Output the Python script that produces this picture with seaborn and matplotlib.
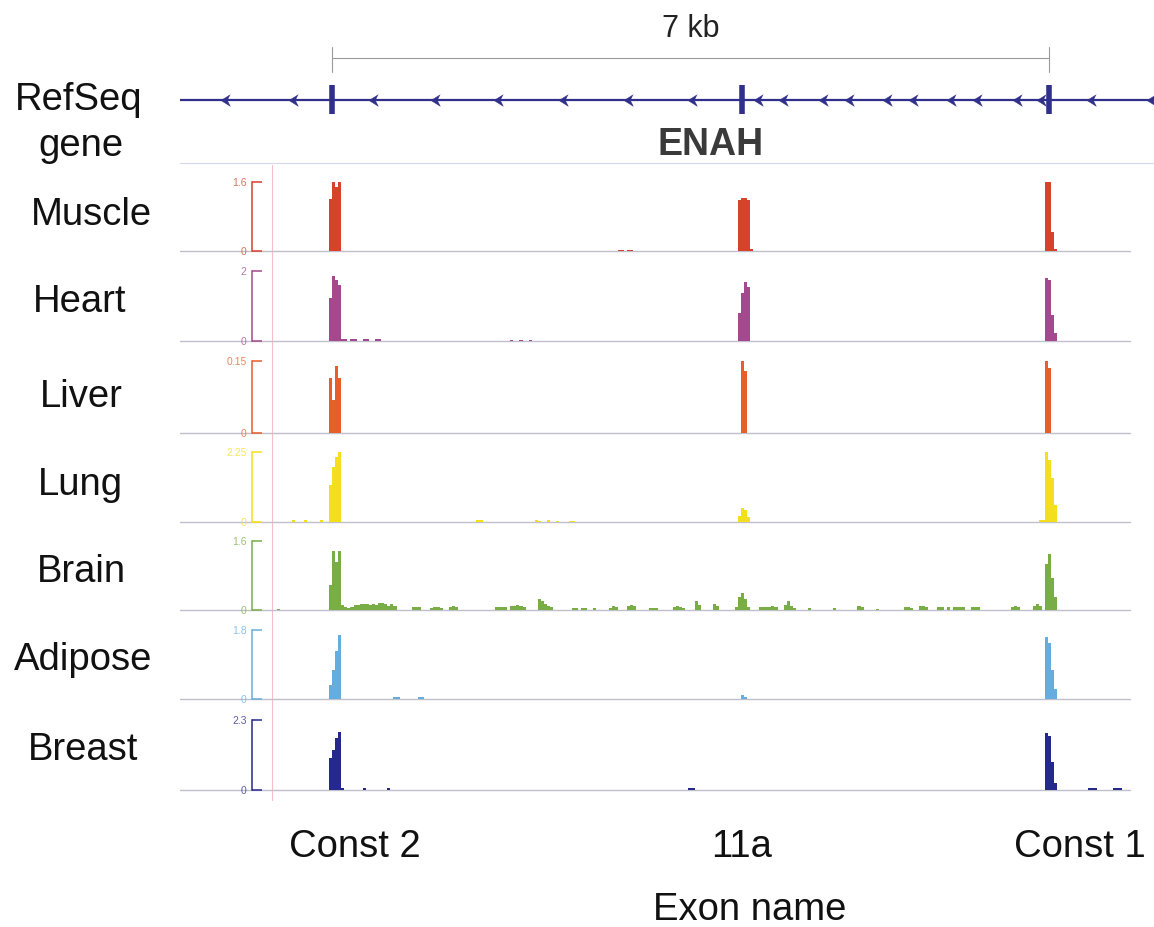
import numpy as np
import pandas as pd
import matplotlib
matplotlib.use("Agg")
import matplotlib.pyplot as plt
from matplotlib.lines import Line2D
import seaborn as sns

# ---------------- data ----------------
tracks = ["Muscle", "Heart", "Liver", "Lung", "Brain", "Adipose", "Breast"]
track_max = [1.6, 2, 0.15, 2.25, 1.6, 1.8, 2.3]
track_max_labels = ["1.6", "2", "0.15", "2.25", "1.6", "1.8", "2.3"]
track_colors = ["#d5432b", "#a4498d", "#e65f2b", "#f4df1e", "#79ae47", "#66addf", "#25298b"]

exon_names = ["Const 2", "11a", "Const 1"]
exon_kb = [0.0, 4.0, 7.0]
intron_arrows_kb = [-1.054, -0.391, 0.391, 0.996, 1.611, 2.245, 2.880, 3.505, 4.149, 4.393,
                    4.784, 5.038, 5.409, 5.662, 6.033, 6.287, 6.678, 6.912, 7.400, 7.986]
scale_kb = [0.0, 7.0]
gene_name = "ENAH"

muscle_x = [-0.015, 0.015, 0.045, 0.075, 2.805, 2.835, 2.895, 2.925,
            3.975, 4.005, 4.035, 4.065, 4.095, 6.975, 7.005, 7.035, 7.065]
muscle_y = [1.2, 1.6, 1.48, 1.6, 0.03, 0.03, 0.03, 0.03,
            1.18, 1.22, 1.22, 1.18, 0.04, 1.6, 1.6, 0.44, 0.05]

heart_x = [-0.015, 0.015, 0.045, 0.075, 0.105, 0.135, 0.195, 0.225, 0.315, 0.345, 0.435, 0.465,
           1.755, 1.845, 1.935, 3.975, 4.005, 4.035, 4.065, 6.975, 7.005, 7.035, 7.065]
heart_y = [1.23, 1.86, 1.74, 1.6, 0.05, 0.05, 0.05, 0.05, 0.05, 0.05, 0.05, 0.05,
           0.04, 0.04, 0.04, 0.8, 1.37, 1.69, 1.54, 1.8, 1.75, 0.74, 0.23]

liver_x = [-0.015, 0.015, 0.045, 0.075, 4.005, 4.035, 6.975, 7.005]
liver_y = [0.115, 0.069, 0.14, 0.115, 0.15, 0.13, 0.15, 0.135]

lung_x = [-0.375, -0.255, -0.105, -0.015, 0.015, 0.045, 0.075, 1.425, 1.455,
          1.995, 2.025, 2.115, 2.205, 2.325, 2.355,
          3.975, 4.005, 4.035, 4.065, 6.915, 6.945, 6.975, 7.005, 7.035, 7.065]
lung_y = [0.05, 0.05, 0.05, 1.19, 1.77, 2.09, 2.25, 0.06, 0.06,
          0.05, 0.04, 0.05, 0.04, 0.04, 0.04,
          0.2, 0.45, 0.38, 0.15, 0.06, 0.06, 2.25, 1.99, 1.41, 0.55]

brain_x = [-0.525, -0.015, 0.015, 0.045, 0.075, 0.105, 0.135, 0.165,
           0.195, 0.225, 0.255, 0.285, 0.315, 0.345, 0.375, 0.405, 0.435, 0.465, 0.495, 0.525, 0.555, 0.585, 0.615,
           0.795, 0.825, 0.855, 0.975, 1.005, 1.035, 1.065, 1.155, 1.185, 1.215,
           1.605, 1.635, 1.665, 1.695, 1.755, 1.785, 1.815, 1.845, 1.875,
           2.025, 2.055, 2.085, 2.115, 2.145, 2.355, 2.385, 2.445, 2.475, 2.565,
           2.715, 2.745, 2.775, 2.895, 2.925, 2.955, 3.105, 3.135, 3.165,
           3.345, 3.375, 3.405, 3.435, 3.555, 3.585, 3.735, 3.765,
           3.945, 3.975, 4.005, 4.035, 4.065,
           4.185, 4.215, 4.245, 4.275, 4.305, 4.335, 4.425, 4.455, 4.485, 4.515,
           4.665, 4.905, 5.145, 5.175, 5.325, 5.595, 5.625, 5.655, 5.745, 5.775, 5.805,
           5.925, 5.955, 6.015, 6.075, 6.105, 6.135, 6.165, 6.255, 6.285, 6.315,
           6.645, 6.675, 6.705, 6.855, 6.885, 6.915, 6.975, 7.005, 7.035, 7.065]
brain_y = [0.03, 0.58, 1.37, 1.11, 1.37, 0.12, 0.08, 0.05,
           0.06, 0.12, 0.12, 0.14, 0.14, 0.14, 0.12, 0.14, 0.12, 0.16, 0.16, 0.14, 0.1, 0.14, 0.1,
           0.06, 0.08, 0.06, 0.05, 0.06, 0.06, 0.05, 0.08, 0.09, 0.06,
           0.08, 0.08, 0.06, 0.08, 0.1, 0.1, 0.12, 0.1, 0.08,
           0.25, 0.22, 0.13, 0.1, 0.06, 0.05, 0.05, 0.05, 0.05, 0.05,
           0.05, 0.09, 0.06, 0.1, 0.11, 0.09, 0.05, 0.05, 0.05,
           0.06, 0.1, 0.07, 0.05, 0.21, 0.12, 0.15, 0.1,
           0.07, 0.3, 0.4, 0.25, 0.06,
           0.06, 0.08, 0.07, 0.08, 0.1, 0.06, 0.12, 0.2, 0.1, 0.05,
           0.04, 0.04, 0.1, 0.08, 0.03, 0.06, 0.06, 0.05, 0.1, 0.1, 0.06,
           0.06, 0.06, 0.06, 0.06, 0.06, 0.06, 0.06, 0.06, 0.06, 0.06,
           0.06, 0.09, 0.06, 0.09, 0.13, 0.1, 1.06, 1.3, 0.75, 0.29]

adipose_x = [-0.015, 0.015, 0.045, 0.075, 0.615, 0.645, 0.855, 0.885,
             4.005, 4.035, 6.975, 7.005, 7.035, 7.065]
adipose_y = [0.37, 0.75, 1.25, 1.67, 0.05, 0.05, 0.05, 0.05,
             0.1, 0.06, 1.62, 1.46, 0.76, 0.26]

breast_x = [-0.015, 0.015, 0.045, 0.075, 0.105, 0.315, 0.555, 3.495, 3.525,
            6.975, 7.005, 7.035, 7.065, 7.395, 7.425, 7.455, 7.635, 7.665, 7.695]
breast_y = [1.05, 1.31, 1.71, 1.9, 0.08, 0.06, 0.06, 0.05, 0.05,
            1.87, 1.77, 0.92, 0.23, 0.05, 0.05, 0.05, 0.05, 0.05, 0.05]

track_data = [(muscle_x, muscle_y), (heart_x, heart_y), (liver_x, liver_y), (lung_x, lung_y),
              (brain_x, brain_y), (adipose_x, adipose_y), (breast_x, breast_y)]

# ---------------- layout (pixels) ----------------
W, H = 1154, 927
sns.set_theme(style="white")
plt.rcParams["font.family"] = ["Liberation Sans", "DejaVu Sans"]

fig = plt.figure(figsize=(W / 100, H / 100), dpi=100)
fig.patch.set_facecolor("white")

PX0, PX1 = 180, 1154
KB_PER_PX = 1 / 102.43
XLIM = ((PX0 - 332) * KB_PER_PX, (PX1 - 332) * KB_PER_PX)
AX_L = PX0 / W
AX_W = (PX1 - PX0) / W
LABEL_FS = 27.5
BIN_KB = 0.03


def fx(px):
    return px / W


def fy(py):
    return 1 - py / H


# gene track
gax = fig.add_axes([AX_L, fy(170), AX_W, 170 / H])
gene_col = "#30308c"
gax.axhline(100, color=gene_col, lw=1.6, zorder=2)
gax.vlines(exon_kb, 85, 114, color=gene_col, lw=4.0, zorder=3)
chev = [(1, 1), (-0.6, 0), (1, -1), (0.5, 0)]
arrows_df = pd.DataFrame({"kb": intron_arrows_kb, "y": [100] * len(intron_arrows_kb)})
sns.scatterplot(data=arrows_df, x="kb", y="y", marker=chev, s=70,
                color=gene_col, edgecolor=gene_col, linewidth=0.3, ax=gax, zorder=4, legend=False)
gax.set_xlim(*XLIM)
gax.set_ylim(170, 0)
gax.axis("off")
gax.plot(scale_kb, [58, 58], color="#9a9a9a", lw=0.8)
for k in scale_kb:
    gax.plot([k, k], [47, 72], color="#9a9a9a", lw=0.8)
gax.text(np.mean(scale_kb), 29, "%g kb" % (scale_kb[1] - scale_kb[0]), ha="center", va="center",
         fontsize=22, color="#222222")
gax.text(3.70, 145, gene_name, ha="center", va="center", fontsize=27, fontweight="bold",
         color="#3a3a3a")
gax.axhline(163, color="#d4d8ee", lw=0.8)

# data tracks
bases = [251, 341, 433, 522, 610, 699, 790]
tops = [182, 271, 361, 452, 541, 630, 720]
label_cx = [91, 80, 81, 80, 81, 83, 83]
label_cy = [215, 302, 397, 485, 572, 660, 750]
spine_kb = (252 - 332) * KB_PER_PX

for i, name in enumerate(tracks):
    b, t = bases[i], tops[i]
    ax = fig.add_axes([AX_L, fy(b), AX_W, (b - t) / H])
    ax.patch.set_visible(False)
    ax.axhline(0, xmin=0, xmax=(1130 - PX0) / (PX1 - PX0), color="#bfc0cc", lw=1.0,
               zorder=0, clip_on=False)
    xs, ys = track_data[i]
    df = pd.DataFrame({"kb": xs, "signal": ys})
    sns.histplot(data=df, x="kb", weights="signal", binwidth=BIN_KB, binrange=(-1.5, 8.01),
                 ax=ax, color=track_colors[i], alpha=1, linewidth=0, element="bars",
                 stat="count")
    ax.set_xlim(*XLIM)
    ax.set_ylim(0, track_max[i])
    ax.set_xlabel("")
    ax.set_ylabel("")
    ax.set_xticks([])
    for s in ["top", "right", "bottom"]:
        ax.spines[s].set_visible(False)
    ax.spines["left"].set_position(("data", spine_kb))
    ax.spines["left"].set_bounds(0, track_max[i])
    ax.spines["left"].set_color(track_colors[i])
    ax.spines["left"].set_linewidth(1.1)
    ax.set_yticks([0, track_max[i]])
    ax.set_yticklabels(["0", track_max_labels[i]])
    ax.tick_params(axis="y", direction="in", length=7, width=1.1, colors=track_colors[i],
                   labelsize=7.5, pad=4, left=True)
    for lab in ax.get_yticklabels():
        lab.set_alpha(0.75)
    fig.text(fx(label_cx[i]), fy(label_cy[i]), name, ha="center", va="center",
             fontsize=LABEL_FS, color="#111111")

fig.text(fx(79), fy(100), "RefSeq", ha="center", va="center", fontsize=LABEL_FS, color="#111111")
fig.text(fx(81), fy(146), "gene", ha="center", va="center", fontsize=LABEL_FS, color="#111111")

# pink guide line
fig.add_artist(Line2D([fx(272), fx(272)], [fy(165), fy(800)], transform=fig.transFigure,
                      color="#f6bcc8", lw=0.8, zorder=0))

# exon name labels
label_px = [355, 742, 1080]
for nm, px in zip(exon_names, label_px):
    fig.text(fx(px), fy(847), nm, ha="center", va="center", fontsize=LABEL_FS, color="#111111")
fig.text(fx(750), fy(910), "Exon name", ha="center", va="center", fontsize=LABEL_FS,
         color="#111111")

fig.savefig("out.png", dpi=100)
